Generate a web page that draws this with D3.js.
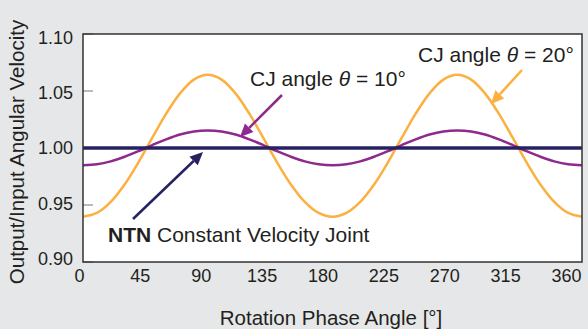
<!DOCTYPE html>
<html>
<head>
<meta charset="utf-8">
<script src="https://cdn.jsdelivr.net/npm/d3@7"></script>
<style>
  body { margin: 0; background: #e6e7e8; }
  text { font-family: "Liberation Sans", Arial, sans-serif; fill: #231f20; }
</style>
</head>
<body>
<div id="chart"></div>
<script>
// values, every 10 deg of phase
var phase = [0,10,20,30,40,50,60,70,80,90,100,110,120,130,140,150,160,170,180,
             190,200,210,220,230,240,250,260,270,280,290,300,310,320,330,340,350,360];
var cj20 = [0.9397,0.9430,0.9527,0.9680,0.9874,1.0090,1.0301,1.0479,1.0600,1.0642,
            1.0600,1.0479,1.0301,1.0090,0.9874,0.9680,0.9527,0.9430,0.9397,
            0.9430,0.9527,0.9680,0.9874,1.0090,1.0301,1.0479,1.0600,1.0642,
            1.0600,1.0479,1.0301,1.0090,0.9874,0.9680,0.9527,0.9430,0.9397];
var cj10 = [0.9848,0.9857,0.9883,0.9923,0.9972,1.0026,1.0076,1.0118,1.0145,1.0154,
            1.0145,1.0118,1.0076,1.0026,0.9972,0.9923,0.9883,0.9857,0.9848,
            0.9857,0.9883,0.9923,0.9972,1.0026,1.0076,1.0118,1.0145,1.0154,
            1.0145,1.0118,1.0076,1.0026,0.9972,0.9923,0.9883,0.9857,0.9848];
var ntnPhase = [0, 360];
var ntn = [1.00, 1.00];
var xTicks = [0,45,90,135,180,225,270,315,360];
var yTicks = [0.90,0.95,1.00,1.05,1.10];

var w = 588, h = 329;
var svg = d3.select("#chart").append("svg").attr("width", w).attr("height", h);

var pl = 83, pr = 582, pt = 34, pb = 262;

var x = d3.scaleLinear().domain([0,360]).range([pl, pr]);
var y = d3.scaleLinear().domain([0.90,1.10]).range([pb, pt]);
// tick labels sit a little off the plot edges in the original
var xLab = d3.scaleLinear().domain([0,360]).range([79, 566]);
var yLab = d3.scaleLinear().domain([0.90,1.10]).range([258, 37]);

svg.append("defs").append("clipPath").attr("id","clip")
  .append("rect").attr("x",pl).attr("y",pt).attr("width",pr-pl).attr("height",pb-pt);

svg.append("rect")
  .attr("x",pl).attr("y",pt).attr("width",pr-pl).attr("height",pb-pt)
  .attr("fill","#fff");

// inner y ticks
svg.selectAll(".ytick").data(yTicks).enter().append("line")
  .attr("x1",pl).attr("x2",pl+10)
  .attr("y1",function(d){ return y(d); }).attr("y2",function(d){ return y(d); })
  .attr("stroke","#777").attr("stroke-width",1);

var yAx = svg.append("g").attr("transform","translate(73,0)")
  .call(d3.axisLeft(yLab).tickValues(yTicks).tickSize(0).tickFormat(d3.format(".2f")));
yAx.select(".domain").remove();
yAx.selectAll("text").attr("x",0).attr("dy","0.36em").style("font-size","18px")
  .style("font-family","Liberation Sans, Arial, sans-serif").attr("fill","#231f20");

var xAx = svg.append("g").attr("transform","translate(0,269)")
  .call(d3.axisBottom(xLab).tickValues(xTicks).tickSize(0));
xAx.select(".domain").remove();
xAx.selectAll("text").attr("y",0).attr("dy","0.71em").style("font-size","18px")
  .style("font-family","Liberation Sans, Arial, sans-serif").attr("fill","#231f20");

var line = d3.line()
  .x(function(d){ return x(d[0]); })
  .y(function(d){ return y(d[1]); })
  .curve(d3.curveCatmullRom);

var g = svg.append("g").attr("clip-path","url(#clip)");
g.append("path").datum(d3.zip(phase, cj20)).attr("d", line)
  .attr("fill","none").attr("stroke","#fbb040").attr("stroke-width",2.5);
g.append("path").datum(d3.zip(phase, cj10)).attr("d", line)
  .attr("fill","none").attr("stroke","#8e2a8e").attr("stroke-width",2.5);
g.append("path").datum(d3.zip(ntnPhase, ntn)).attr("d", line)
  .attr("fill","none").attr("stroke","#262262").attr("stroke-width",3.5);

svg.append("rect")
  .attr("x",pl).attr("y",pt).attr("width",pr-pl).attr("height",pb-pt)
  .attr("fill","none").attr("stroke","#333").attr("stroke-width",1.5);

// arrows
function arrow(x1,y1,x2,y2,col){
  var ang = Math.atan2(y2-y1, x2-x1), L = 13, W = 6;
  var bx = x2 - L*Math.cos(ang), by = y2 - L*Math.sin(ang);
  svg.append("line").attr("x1",x1).attr("y1",y1).attr("x2",bx).attr("y2",by)
    .attr("stroke",col).attr("stroke-width",2.5);
  svg.append("path")
    .attr("d","M"+x2+","+y2+"L"+(bx+W*Math.sin(ang))+","+(by-W*Math.cos(ang))+
      "L"+(bx-W*Math.sin(ang))+","+(by+W*Math.cos(ang))+"Z")
    .attr("fill",col);
}
arrow(522,70,491,104,"#fbb040");
arrow(282,95,240,137,"#8e2a8e");
arrow(133,219,203,152,"#262262");

function label(tx,ty,a,b){
  var t = svg.append("text").attr("x",tx).attr("y",ty).style("font-size","21px");
  t.append("tspan").text("CJ angle ");
  t.append("tspan").style("font-style","italic").text("θ");
  t.append("tspan").text(" = " + a);
}
label(418,62,"20°");
label(250,86,"10°");

var nt = svg.append("text").attr("x",108).attr("y",242).style("font-size","21px");
nt.append("tspan").style("font-weight","bold").text("NTN");
nt.append("tspan").text(" Constant Velocity Joint");

svg.append("text").attr("x",331).attr("y",325).attr("text-anchor","middle")
  .style("font-size","20.5px").text("Rotation Phase Angle [°]");
svg.append("text").attr("transform","translate(24,152) rotate(-90)")
  .attr("text-anchor","middle").style("font-size","20.5px")
  .text("Output/Input Angular Velocity");
</script>
</body>
</html>
